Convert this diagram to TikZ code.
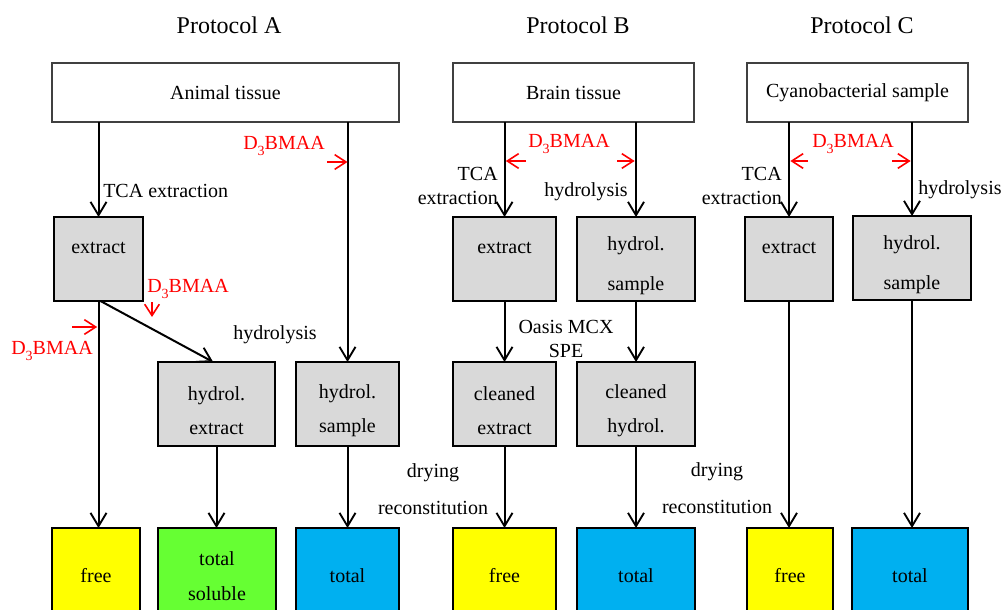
\documentclass[tikz,border=0pt]{standalone}
\usepackage{fontspec}
\setmainfont{Liberation Serif}
\usetikzlibrary{arrows.meta}
\definecolor{boxgray}{HTML}{D9D9D9}
\definecolor{cyel}{HTML}{FFFF00}
\definecolor{cgrn}{HTML}{66FF33}
\definecolor{cblu}{HTML}{00B0F0}
\definecolor{cred}{HTML}{FF0000}
\tikzset{
  body/.style={font=\fontsize{15}{18}\selectfont},
  ttl/.style={font=\fontsize{18}{21}\selectfont},
  topbox/.style={draw=black!75, line width=0.8pt, fill=white, inner sep=0pt, outer sep=0pt, body},
  graybox/.style={draw=black, line width=1.4pt, fill=boxgray, inner sep=0pt, outer sep=0pt, align=center},
  onebox/.style={graybox, body, text height=10pt, text depth=19pt},
  twobox/.style={graybox, font=\fontsize{15}{25.5}\selectfont},
  twoboxw/.style={graybox, font=\fontsize{15}{30}\selectfont},
  endbox/.style={draw=black, line width=1.4pt, inner sep=0pt, outer sep=0pt, align=center, font=\fontsize{15}{26}\selectfont},
  flow/.style={draw=black, line width=1.5pt, -{Straight Barb[length=10pt,width=12pt,line width=1.4pt]}},
  spike/.style={draw=cred, line width=1.2pt, -{Straight Barb[length=8.5pt,width=11pt,line width=1.2pt]}},
  redlbl/.style={text=cred, body, inner sep=0pt},
  lbl/.style={body, inner sep=0pt},
}
\newcommand{\dbmaa}{D\raisebox{-4pt}{\fontsize{10.5}{10.5}\selectfont 3}BMAA}
\newcommand{\dn}{\rule{0pt}{20pt}}
\begin{document}
\begin{tikzpicture}[x=0.75pt,y=-0.75pt]
\useasboundingbox (0,0) rectangle (1003,610);
\clip (0,0) rectangle (1003,610);
\fill[white] (0,0) rectangle (1003,610);

% titles
\node[ttl] (tA) at (229,25) {Protocol A};
\node[ttl] (tB) at (578,25) {Protocol B};
\node[ttl] (tC) at (862,25) {Protocol C};

% top boxes
\node[topbox, minimum width=347*0.75pt, minimum height=59*0.75pt] (anA) at (225.5,92.5) {Animal tissue};
\node[topbox, minimum width=241*0.75pt, minimum height=59*0.75pt] (brB) at (573.5,92.5) {Brain tissue};
\node[topbox, minimum width=221*0.75pt, minimum height=59*0.75pt] (cyC) at (857.5,92.5) {Cyanobacterial sample};

% Protocol A
\node[onebox, minimum width=89*0.75pt, minimum height=84*0.75pt] (exA) at (98.5,259) {extract};
\node[twobox, minimum width=117*0.75pt, minimum height=84*0.75pt] (hexA) at (216.5,404) {\dn hydrol.\\extract};
\node[twobox, minimum width=103*0.75pt, minimum height=84*0.75pt] (hsA) at (347.5,404) {\dn hydrol.\\sample};
\node[endbox, fill=cyel, minimum width=88*0.75pt, minimum height=96*0.75pt] (frA) at (96,576) {free};
\node[endbox, fill=cgrn, minimum width=118*0.75pt, minimum height=96*0.75pt] (tsA) at (217,576) {total\\soluble};
\node[endbox, fill=cblu, minimum width=103*0.75pt, minimum height=96*0.75pt] (ttA) at (347.5,576) {total};

\draw[flow] (exA.north |- anA.south) -- (exA.north);
\draw[flow] (hsA.north |- anA.south) -- (hsA.north);
\draw[flow] (exA.south) -- (exA.south |- frA.north);
\draw[flow] ([xshift=1.5pt]exA.south) -- ([xshift=-2.5pt]hexA.north);
\draw[flow] (hexA.south) -- (tsA.north -| hexA.south);
\draw[flow] (hsA.south) -- (ttA.north -| hsA.south);

\node[lbl, anchor=west] (lTCA) at (103,191) {TCA extraction};
\node[lbl] (lhydA) at (275,335) {hydrolysis};
\node[redlbl] (dA1) at (284,146) {\dbmaa};
\node[redlbl] (dA2) at (188,289) {\dbmaa};
\node[redlbl] (dA3) at (52,351) {\dbmaa};
\coordinate (sA1s) at (327,162);
\coordinate (sA2s) at (152,302);
\coordinate (sA3s) at (72,327);
\draw[spike] (sA1s) -- (sA1s -| hsA.north);
\draw[spike] (sA2s) -- ++(0,15);
\draw[spike] (sA3s) -- ([xshift=-1pt]sA3s -| exA.south);

% Protocol B
\node[onebox, minimum width=103*0.75pt, minimum height=84*0.75pt] (exB) at (504.5,259) {extract};
\node[twoboxw, minimum width=118*0.75pt, minimum height=84*0.75pt] (hsB) at (636,259) {\dn hydrol.\\sample};
\node[twobox, minimum width=103*0.75pt, minimum height=84*0.75pt] (ceB) at (504.5,404) {\dn cleaned\\extract};
\node[twobox, minimum width=118*0.75pt, minimum height=84*0.75pt] (chB) at (636,404) {\dn cleaned\\hydrol.};
\node[endbox, fill=cyel, minimum width=103*0.75pt, minimum height=96*0.75pt] (frB) at (504.5,576) {free};
\node[endbox, fill=cblu, minimum width=118*0.75pt, minimum height=96*0.75pt] (ttB) at (636,576) {total};

\draw[flow] (exB.north |- brB.south) -- (exB.north);
\draw[flow] (hsB.north |- brB.south) -- (hsB.north);
\draw[flow] (exB.south) -- (ceB.north);
\draw[flow] (hsB.south) -- (chB.north);
\draw[flow] (ceB.south) -- (frB.north);
\draw[flow] (chB.south) -- (ttB.north);

\node[lbl, align=right, anchor=east] (lTCAB) at (498,186) {TCA\\extraction};
\node[lbl] (lhydB) at (586,192) {hydrolysis};
\node[lbl, align=center] (lspe) at (566,339) {Oasis MCX\\SPE};
\node[lbl] (ldryB) at (433,473) {drying};
\node[lbl] (lrecB) at (433,508) {reconstitution};
\node[redlbl] (dB) at (569,144) {\dbmaa};
\coordinate (sBl) at (526,161);
\coordinate (sBr) at (617,161);
\draw[spike] (sBl) -- ([xshift=1pt]sBl -| exB.north);
\draw[spike] (sBr) -- ([xshift=-1pt]sBr -| hsB.north);

% Protocol C
\node[onebox, minimum width=88*0.75pt, minimum height=84*0.75pt] (exC) at (789,259) {extract};
\node[twoboxw, minimum width=118*0.75pt, minimum height=84*0.75pt] (hsC) at (912,258) {\dn hydrol.\\sample};
\node[endbox, fill=cyel, minimum width=86*0.75pt, minimum height=96*0.75pt] (frC) at (790,576) {free};
\node[endbox, fill=cblu, minimum width=116*0.75pt, minimum height=96*0.75pt] (ttC) at (910,576) {total};

\draw[flow] (exC.north |- cyC.south) -- (exC.north);
\draw[flow] (hsC.north |- cyC.south) -- (hsC.north);
\draw[flow] (exC.south) -- (exC.south |- frC.north);
\draw[flow] (hsC.south) -- (hsC.south |- ttC.north);

\node[lbl, align=right, anchor=east] (lTCAC) at (782,186) {TCA\\extraction};
\node[lbl, anchor=west] (lhydC) at (918,190) {hydrolysis};
\node[lbl] (ldryC) at (717,472) {drying};
\node[lbl] (lrecC) at (717,507) {reconstitution};
\node[redlbl] (dC) at (853,144) {\dbmaa};
\coordinate (sCl) at (808,161);
\coordinate (sCr) at (892,161);
\draw[spike] (sCl) -- ([xshift=1pt]sCl -| exC.north);
\draw[spike] (sCr) -- ([xshift=-1pt]sCr -| hsC.north);
\end{tikzpicture}
\end{document}
